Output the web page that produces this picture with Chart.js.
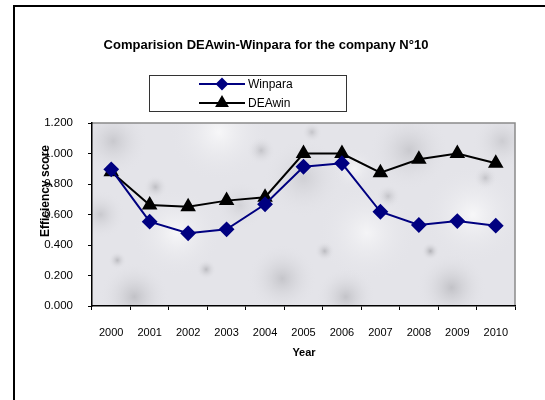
<!DOCTYPE html>
<html>
<head>
<meta charset="utf-8">
<script src="https://cdn.jsdelivr.net/npm/chart.js@4/dist/chart.umd.min.js"></script>
<style>
  body { margin: 0; background: #fff; }
  #wrap { width: 545px; height: 400px; }
</style>
</head>
<body>
<div id="wrap"><canvas id="canvasDoThi" width="545" height="400"></canvas></div>
<script>
// data
var years = ["2000", "2001", "2002", "2003", "2004", "2005", "2006", "2007", "2008", "2009", "2010"];
var winpara = [0.896, 0.553, 0.477, 0.503, 0.667, 0.913, 0.936, 0.618, 0.531, 0.557, 0.527];
var deawin = [0.881, 0.662, 0.651, 0.691, 0.713, 1.000, 1.000, 0.874, 0.962, 1.000, 0.936];
var yTicks = [0, 0.2, 0.4, 0.6, 0.8, 1.0, 1.2];

var titleText = "Comparision DEAwin-Winpara for the company N°10";
var FONT = "'Liberation Sans', Arial, sans-serif";

// vet loang cua nen (chi de trang tri)
var blobs = [
    [0.05, 0.1, 35, 'rgba(150,150,155,0.35)'], [0.3, 0.05, 50, 'rgba(255,255,255,0.7)'],
    [0.5, 0.3, 40, 'rgba(160,160,165,0.3)'], [0.75, 0.15, 40, 'rgba(140,140,145,0.3)'],
    [0.9, 0.5, 50, 'rgba(255,255,255,0.7)'], [0.2, 0.6, 45, 'rgba(255,255,255,0.7)'],
    [0.1, 0.95, 35, 'rgba(130,130,135,0.35)'], [0.45, 0.85, 35, 'rgba(140,140,145,0.35)'],
    [0.65, 0.6, 50, 'rgba(255,255,255,0.6)'], [0.85, 0.9, 35, 'rgba(130,130,135,0.35)'],
    [0.35, 0.45, 25, 'rgba(170,170,175,0.3)'], [0.97, 0.1, 30, 'rgba(150,150,155,0.3)'],
    [0.6, 0.95, 30, 'rgba(120,120,125,0.3)'], [0.02, 0.5, 25, 'rgba(140,140,145,0.3)'],
    [0.15, 0.35, 12, 'rgba(120,120,125,0.35)'], [0.27, 0.8, 10, 'rgba(110,110,115,0.35)'],
    [0.4, 0.15, 14, 'rgba(120,120,125,0.3)'], [0.55, 0.7, 10, 'rgba(110,110,115,0.35)'],
    [0.7, 0.4, 12, 'rgba(120,120,125,0.3)'], [0.8, 0.7, 9, 'rgba(100,100,105,0.4)'],
    [0.93, 0.3, 12, 'rgba(120,120,125,0.3)'], [0.06, 0.75, 9, 'rgba(110,110,115,0.35)'],
    [0.52, 0.05, 10, 'rgba(120,120,125,0.3)'], [0.62, 0.25, 22, 'rgba(255,255,255,0.6)']
];

// nen da hoa cuong + khung + chu
var khungPlugin = {
    id: 'khung',
    beforeDraw: function (chart) {
        var ctx = chart.ctx;
        var a = chart.chartArea;
        ctx.save();
        ctx.fillStyle = '#fff';
        ctx.fillRect(0, 0, chart.width, chart.height);
        ctx.fillStyle = '#e4e4e9';
        ctx.fillRect(a.left, a.top, a.right - a.left, a.bottom - a.top);
        ctx.beginPath();
        ctx.rect(a.left, a.top, a.right - a.left, a.bottom - a.top);
        ctx.clip();
        blobs.forEach(function (b) {
            var x = a.left + b[0] * (a.right - a.left), y = a.top + b[1] * (a.bottom - a.top);
            var g = ctx.createRadialGradient(x, y, 0, x, y, b[2]);
            g.addColorStop(0, b[3]);
            g.addColorStop(1, 'rgba(228,228,233,0)');
            ctx.fillStyle = g;
            ctx.fillRect(x - b[2], y - b[2], b[2] * 2, b[2] * 2);
        });
        ctx.restore();
        // vien vung ve
        ctx.save();
        ctx.strokeStyle = '#8a8a8a';
        ctx.lineWidth = 1.5;
        ctx.beginPath();
        ctx.moveTo(a.left, a.top);
        ctx.lineTo(a.right, a.top);
        ctx.lineTo(a.right, a.bottom);
        ctx.stroke();
        ctx.restore();
    },
    afterDraw: function (chart) {
        var ctx = chart.ctx;
        ctx.save();
        // khung ngoai
        ctx.strokeStyle = '#000';
        ctx.lineWidth = 2;
        ctx.strokeRect(14, 6, 600, 500);
        // tieu de
        ctx.fillStyle = '#000';
        ctx.textAlign = 'center';
        ctx.textBaseline = 'middle';
        ctx.font = 'bold 13px ' + FONT;
        ctx.fillText(titleText, 266, 45);
        // ten truc
        ctx.font = 'bold 11px ' + FONT;
        ctx.fillText('Year', 304, 353);
        ctx.save();
        ctx.translate(46, 191);
        ctx.rotate(-Math.PI / 2);
        ctx.font = 'bold 12px ' + FONT;
        ctx.fillText('Efficiency score', 0, 0);
        ctx.restore();
        // chu giai
        ctx.fillStyle = '#fff';
        ctx.fillRect(149.5, 75.5, 197, 36);
        ctx.strokeStyle = '#333';
        ctx.lineWidth = 1;
        ctx.strokeRect(149.5, 75.5, 197, 36);
        var rows = [
            { y: 84, label: 'Winpara', color: '#000080', style: 'rectRot', r: 5 },
            { y: 103, label: 'DEAwin', color: '#000', style: 'triangle', r: 6 }
        ];
        rows.forEach(function (it) {
            ctx.strokeStyle = it.color;
            ctx.lineWidth = 2;
            ctx.beginPath();
            ctx.moveTo(199, it.y);
            ctx.lineTo(245, it.y);
            ctx.stroke();
            ctx.fillStyle = it.color;
            Chart.helpers.drawPoint(ctx, { pointStyle: it.style, radius: it.r, borderWidth: 1 }, 222, it.y);
            ctx.fill();
            ctx.fillStyle = '#000';
            ctx.textAlign = 'left';
            ctx.font = '12px ' + FONT;
            ctx.fillText(it.label, 248, it.y + 1);
        });
        ctx.restore();
    }
};

function VeDoThi() {
    new Chart("canvasDoThi", {
        type: "line",
        data: {
            labels: years,
            datasets: [{
                label: "Winpara",
                data: winpara,
                borderColor: "#000080",
                backgroundColor: "#000080",
                borderWidth: 2,
                pointStyle: "rectRot",
                pointRadius: 6.5,
                pointHoverRadius: 6.5,
                tension: 0
            }, {
                label: "DEAwin",
                data: deawin,
                borderColor: "#000",
                backgroundColor: "#000",
                borderWidth: 2,
                pointStyle: "triangle",
                pointRadius: 7,
                pointHoverRadius: 7,
                tension: 0
            }]
        },
        options: {
            responsive: false,
            animation: false,
            devicePixelRatio: 1,
            layout: { padding: { left: 0, right: 30, top: 123, bottom: 0 } },
            plugins: {
                legend: { display: false },
                title: { display: false },
                tooltip: { enabled: false }
            },
            scales: {
                x: {
                    offset: true,
                    grid: { offset: true, drawOnChartArea: false, drawTicks: true, tickLength: 4, color: '#000' },
                    border: { display: true, color: '#000', width: 1.5 },
                    ticks: { color: '#000', font: { family: FONT, size: 11 }, padding: 16, maxRotation: 0 },
                    afterFit: function (s) { s.height = 94; }
                },
                y: {
                    min: 0,
                    max: 1.2,
                    afterBuildTicks: function (s) { s.ticks = yTicks.map(function (v) { return { value: v }; }); },
                    grid: { drawOnChartArea: false, drawTicks: true, tickLength: 4, color: '#000' },
                    border: { display: true, color: '#000', width: 1.5 },
                    ticks: {
                        color: '#000', font: { family: FONT, size: 11.5 }, padding: 15,
                        callback: function (v) { return v.toFixed(3); }
                    },
                    afterFit: function (s) { s.width = 92; }
                }
            }
        },
        plugins: [khungPlugin]
    });
}

VeDoThi();
</script>
</body>
</html>
